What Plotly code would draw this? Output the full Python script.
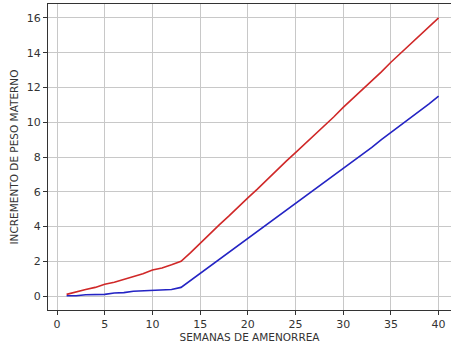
import plotly.graph_objects as go

weeks = list(range(1, 41))
red_gain = [0.10, 0.25, 0.38, 0.50, 0.68, 0.80, 0.95, 1.12, 1.28, 1.50,
            1.62, 1.80, 2.00, 2.50, 3.05, 3.55, 4.10, 4.60, 5.15, 5.65,
            6.15, 6.70, 7.20, 7.75, 8.25, 8.75, 9.30, 9.80, 10.30, 10.85,
            11.35, 11.90, 12.40, 12.90, 13.45, 13.95, 14.50, 15.00, 15.50, 16.00]
blue_gain = [0.02, 0.02, 0.08, 0.10, 0.10, 0.18, 0.20, 0.28, 0.30, 0.30,
             0.36, 0.38, 0.50, 0.90, 1.30, 1.72, 2.12, 2.50, 2.90, 3.30,
             3.70, 4.10, 4.50, 4.90, 5.30, 5.70, 6.10, 6.55, 6.95, 7.35,
             7.75, 8.15, 8.55, 9.00, 9.40, 9.80, 10.20, 10.60, 11.05, 11.50]

x_ticks = [0, 5, 10, 15, 20, 25, 30, 35, 40]
y_ticks = [0, 2, 4, 6, 8, 10, 12, 14, 16]

fig = go.Figure()
fig.add_trace(go.Scatter(x=weeks, y=red_gain, mode="lines",
                         line=dict(color="#d02828", width=1.6), showlegend=False))
fig.add_trace(go.Scatter(x=weeks, y=blue_gain, mode="lines",
                         line=dict(color="#2424c4", width=1.6), showlegend=False))

tick_font = dict(family="DejaVu Sans", size=11, color="#333333")
title_font = dict(family="DejaVu Sans", size=10.5, color="#333333")
fig.update_layout(
    width=451, height=349,
    margin=dict(l=48, r=0, t=4, b=39),
    paper_bgcolor="white", plot_bgcolor="white",
    font=tick_font,
)
fig.update_xaxes(
    range=[-0.95, 41.3], tickvals=x_ticks, ticks="outside", ticklen=4,
    tickcolor="#333333", showline=True, linecolor="#333333", linewidth=1,
    mirror=True, showgrid=True, gridcolor="#c8c8c8", gridwidth=1.3,
    zeroline=False, automargin=False, tickfont=tick_font,
    title=dict(text="SEMANAS DE AMENORREA", font=title_font, standoff=2),
)
fig.update_yaxes(
    range=[-0.8, 16.8], tickvals=y_ticks, ticks="outside", ticklen=4,
    tickcolor="#333333", showline=True, linecolor="#333333", linewidth=1,
    mirror=True, showgrid=True, gridcolor="#c8c8c8", gridwidth=1.3,
    zeroline=False, automargin=False, tickfont=tick_font,
    title=dict(text="INCREMENTO DE PESO MATERNO", font=title_font, standoff=6),
)

fig.write_html("out.html",
               config={"displayModeBar": False},
               post_script="document.body.style.margin='0';document.body.style.overflow='hidden';")
